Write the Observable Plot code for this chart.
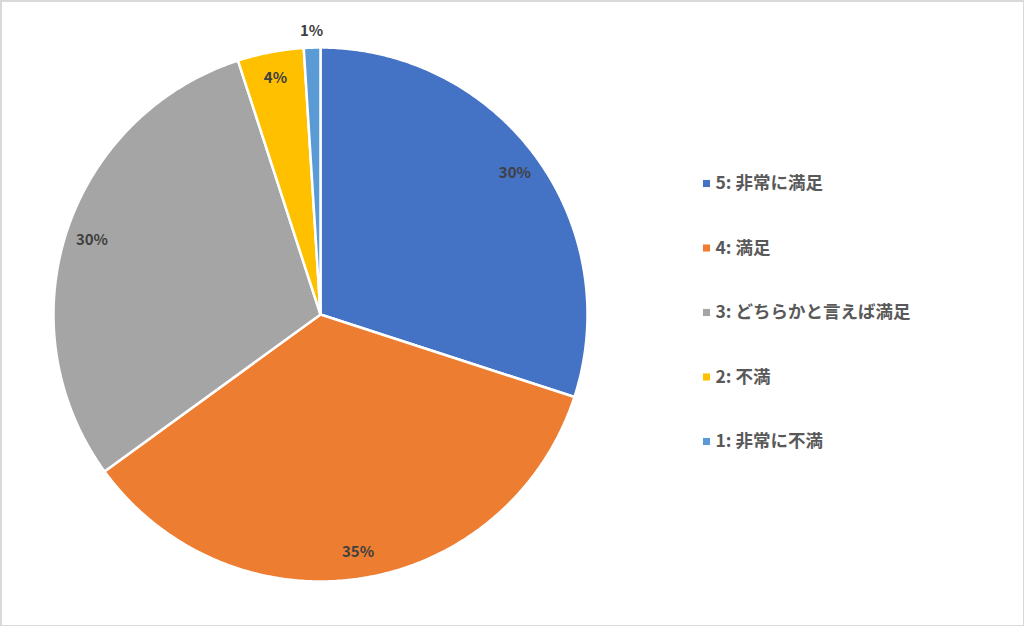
<!DOCTYPE html>
<html>
<head>
<meta charset="utf-8">
<script src="https://cdn.jsdelivr.net/npm/d3@7"></script>
<script src="https://cdn.jsdelivr.net/npm/@observablehq/plot@0.6"></script>
<style>
  html, body { margin: 0; padding: 0; background: #fff; }
  #chart svg { display: block; }
</style>
</head>
<body>
<div id="chart"></div>
<script>
const categories = ["5: 非常に満足", "4: 満足", "3: どちらかと言えば満足", "2: 不満", "1: 非常に不満"];
const values = [30, 35, 30, 4, 1];
const colors = ["#4472C4", "#ED7D31", "#A5A5A5", "#FFC000", "#5B9BD5"];
const labels = ["30%", "35%", "30%", "4%", "1%"];

const W = 1024, H = 626;
const cx = 320, cy = 314, R = 267;
const font = "'Noto Sans CJK JP', 'Noto Sans', sans-serif";

const total = d3.sum(values);
const pie = d3.pie().sort(null).value(d => d)(values);

// polygon outlines for each slice
const slicePts = [];
pie.forEach((p, i) => {
  const a0 = p.startAngle, a1 = p.endAngle;
  const n = Math.max(2, Math.ceil((a1 - a0) / (Math.PI / 360)));
  slicePts.push({k: i, x: cx, y: cy});
  for (let j = 0; j <= n; j++) {
    const a = a0 + (a1 - a0) * j / n;
    slicePts.push({k: i, x: cx + R * Math.sin(a), y: cy - R * Math.cos(a)});
  }
  slicePts.push({k: i, x: cx, y: cy});
});

const labelPts = pie.map((p, i) => {
  const a = (p.startAngle + p.endAngle) / 2;
  const rr = values[i] / total < 0.02 ? R + 16 : R * 0.9;
  return {label: labels[i], x: cx + rr * Math.sin(a), y: cy - rr * Math.cos(a)};
});

const legendRows = categories.map((c, i) => ({c, i, x: 706, y: 183 + i * 64.5}));

const chart = Plot.plot({
  width: W,
  height: H,
  margin: 0,
  x: {type: "linear", domain: [0, W], range: [0, W], axis: null},
  y: {type: "linear", domain: [0, H], range: [0, H], axis: null},
  color: {type: "ordinal", domain: d3.range(categories.length), range: colors},
  style: {fontFamily: font, background: "#fff"},
  marks: [
    Plot.line(slicePts, {x: "x", y: "y", z: "k", fill: "k", stroke: "#fff", strokeWidth: 2.5, strokeLinejoin: "round", curve: "linear"}),
    Plot.text(labelPts, {x: "x", y: "y", text: "label", fill: "#404040", fontSize: 15, fontWeight: "bold", fontFamily: font}),
    Plot.dot(legendRows, {x: "x", y: "y", symbol: "square", r: 4, fill: "i", stroke: null}),
    Plot.text(legendRows, {x: d => d.x + 9, y: "y", text: "c", textAnchor: "start", fill: "#595959", fontSize: 17.5, fontWeight: "bold", fontFamily: font}),
    Plot.frame({stroke: "#d9d9d9", strokeWidth: 3})
  ]
});
document.getElementById("chart").appendChild(chart);
</script>
</body>
</html>
